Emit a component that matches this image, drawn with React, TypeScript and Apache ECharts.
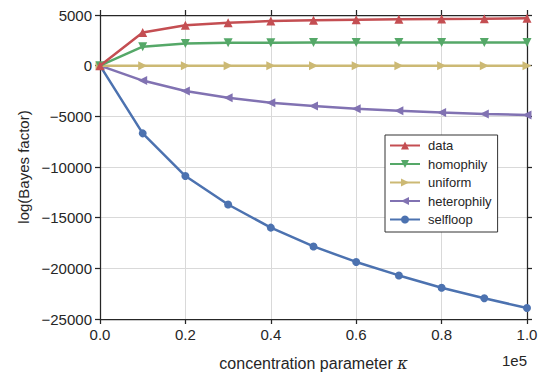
import React, { useEffect, useRef } from "react";
import * as echarts from "echarts";

const kappa = [0, 10000, 20000, 30000, 40000, 50000, 60000, 70000, 80000, 90000, 100000];
const dataSeries = [0, 3270, 3980, 4240, 4400, 4470, 4540, 4570, 4600, 4630, 4670];
const homophily = [0, 1870, 2180, 2250, 2270, 2280, 2280, 2280, 2280, 2280, 2280];
const uniform = [0, 0, 0, 0, 0, 0, 0, 0, 0, 0, 0];
const heterophily = [0, -1470, -2500, -3160, -3650, -3970, -4240, -4460, -4630, -4760, -4860];
const selfloop = [0, -6680, -10890, -13700, -15980, -17840, -19370, -20700, -21920, -22960, -23910];

const seriesNames = ["data", "homophily", "uniform", "heterophily", "selfloop"];
const seriesValues = [dataSeries, homophily, uniform, heterophily, selfloop];
const colors = ["#C44E52", "#55A868", "#CCB974", "#8172B2", "#4C72B0"];
const symbols = [
  "path://M5,0 L10,9 L0,9 Z",
  "path://M0,0 L10,0 L5,9 Z",
  "path://M0,0 L9,5 L0,10 Z",
  "path://M9,0 L0,5 L9,10 Z",
  "circle",
];

const FONT = "'Liberation Sans', Arial, sans-serif";

export default function App() {
  const ref = useRef<HTMLDivElement>(null);
  useEffect(() => {
    if (!ref.current) return;
    const chart = echarts.init(ref.current, undefined, { renderer: "svg" });
    const axisLine = { show: true, onZero: false, lineStyle: { color: "#262626", width: 1.25 } };
    const tick = { show: true, inside: false, length: 5, lineStyle: { color: "#262626", width: 1.25 } };
    const minusFmt = (v: number) => String(v).replace("-", "\u2212");
    chart.setOption({
      animation: false,
      backgroundColor: "#fff",
      textStyle: { fontFamily: FONT },
      grid: { left: 100, right: 16, top: 15, bottom: 54, containLabel: false },
      legend: {
        orient: "vertical",
        left: 385,
        top: 135,
        width: 113,
        data: seriesNames,
        borderColor: "#333",
        borderWidth: 1,
        borderRadius: 0,
        backgroundColor: "#fff",
        padding: [4, 6, 6, 4],
        itemWidth: 30,
        itemHeight: 10,
        itemGap: 5.5,
        textStyle: { fontSize: 13, color: "#262626", fontFamily: FONT, padding: [0, 0, 0, 3] },
      },
      xAxis: [
        {
          type: "value",
          min: 0,
          max: 100000,
          interval: 20000,
          axisLine,
          axisTick: tick,
          axisLabel: {
            fontSize: 15,
            color: "#262626",
            margin: 8,
            formatter: (v: number) => (v / 100000).toFixed(1),
          },
          splitLine: { show: true, lineStyle: { color: "#d9d9d9", width: 1 } },
          name: "concentration parameter {k|κ}",
          nameLocation: "middle",
          nameGap: 36,
          nameTextStyle: {
            fontSize: 16,
            color: "#262626",
            fontFamily: FONT,
            rich: { k: { fontSize: 16, fontStyle: "italic", fontFamily: "'DejaVu Serif', serif", color: "#262626" } },
          },
        },
        {
          type: "value",
          position: "top",
          min: 0,
          max: 100000,
          interval: 20000,
          axisLine,
          axisTick: tick,
          axisLabel: { show: false },
          splitLine: { show: false },
        },
      ],
      yAxis: [
        {
          type: "value",
          min: -25000,
          max: 5000,
          interval: 5000,
          axisLine,
          axisTick: tick,
          axisLabel: { fontSize: 15, color: "#262626", margin: 8, formatter: minusFmt },
          splitLine: { show: true, lineStyle: { color: "#d9d9d9", width: 1 } },
          name: "log(Bayes factor)",
          nameLocation: "middle",
          nameGap: 62,
          nameTextStyle: { fontSize: 15, color: "#262626", fontFamily: FONT },
        },
        {
          type: "value",
          position: "right",
          min: -25000,
          max: 5000,
          interval: 5000,
          axisLine,
          axisTick: tick,
          axisLabel: { show: false },
          splitLine: { show: false },
        },
      ],
      graphic: [
        {
          type: "text",
          right: 16,
          top: 353,
          style: { text: "1e5", fontSize: 15, fill: "#262626", fontFamily: FONT },
        },
      ],
      series: seriesNames.map((name, i) => ({
        name,
        type: "line",
        data: kappa.map((k, j) => [k, seriesValues[i][j]]),
        symbol: symbols[i],
        symbolSize: i === 4 ? 8 : 9,
        showSymbol: true,
        lineStyle: { color: colors[i], width: 2.5 },
        itemStyle: { color: colors[i], borderWidth: 0 },
        z: 2 + (4 - i),
      })),
    });
    return () => chart.dispose();
  }, []);
  return <div ref={ref} style={{ width: 543, height: 376, position: "absolute", left: 0, top: 0 }} />;
}
